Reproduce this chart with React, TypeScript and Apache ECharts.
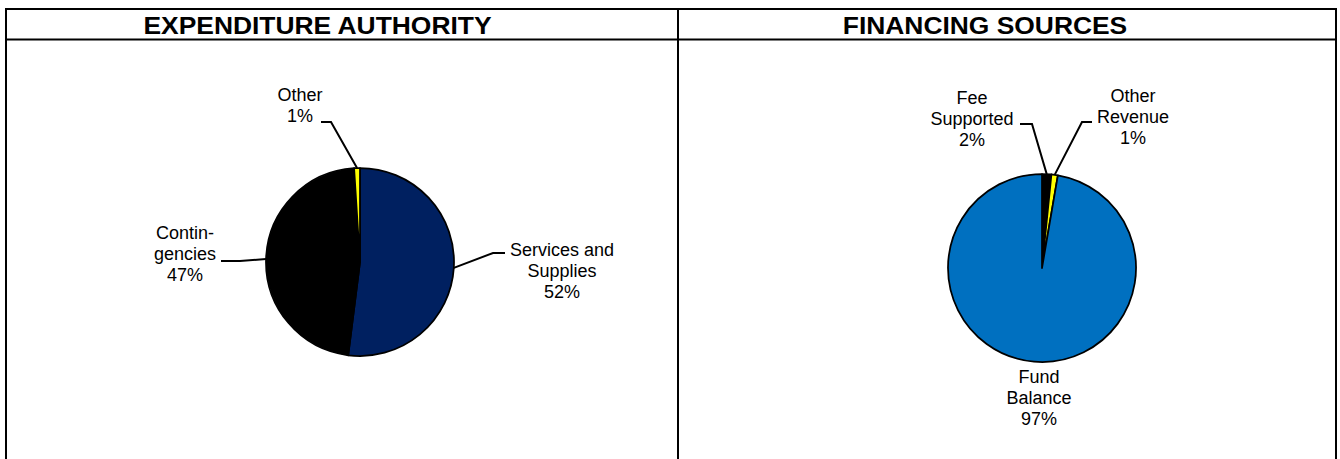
import React, { useEffect, useRef } from "react";
import * as echarts from "echarts";

// ---- data ----
const panelTitles = ["EXPENDITURE AUTHORITY", "FINANCING SOURCES"];
const expenditureCategories = ["Services and\nSupplies", "Contin-\ngencies", "Other"];
const expenditureValues = [52, 47, 1];
const financingCategories = ["Fee\nSupported", "Other\nRevenue", "Fund\nBalance"];
const financingValues = [1.6, 1.1, 97.3];

// ---- styles ----
const expenditureColors = ["#002060", "#000000", "#FFFF00"];
const financingColors = ["#000000", "#FFFF00", "#0070C0"];
const FONT = "'Liberation Sans', Arial, sans-serif";

const pieCenters: number[][] = [
  [360, 262],
  [1042, 268],
];
const pieRadius = 94;

// label placement relative to pie centre: [labelX, labelY, elbowX, elbowY, endX, endY] (null = no line)
const labelPlacement: (number | null)[][][] = [
  [
    [202, 9, 133, -9, 145, -9],
    [-175, -8, -120, -1, -139, -1],
    [-60, -157, -29, -140, -39, -140],
  ],
  [
    [-70, -149, -10, -144, -22, -144],
    [91, -151, 40, -146, 50, -146],
    [-3, 130, null, null, null, null],
  ],
];

export default function App() {
  const ref = useRef<HTMLDivElement>(null);

  useEffect(() => {
    if (!ref.current) return;
    const chart = echarts.init(ref.current, undefined, { renderer: "svg" });

    const makeSeries = (
      idx: number,
      names: string[],
      values: number[],
      colors: string[]
    ) => ({
      type: "pie",
      center: pieCenters[idx],
      radius: pieRadius,
      startAngle: 90,
      clockwise: true,
      silent: true,
      avoidLabelOverlap: false,
      emphasis: { disabled: true },
      itemStyle: { borderColor: "#000", borderWidth: 1.75 },
      label: {
        show: true,
        position: "outside",
        color: "#000",
        fontFamily: FONT,
        fontSize: 18,
        lineHeight: 21,
        align: "center",
        formatter: (p: any) => `${p.name}\n${Math.round(p.percent)}%`,
      },
      labelLine: {
        show: true,
        length: 20,
        length2: 10,
        smooth: false,
        lineStyle: { color: "#000", width: 2 },
      },
      labelLayout: (params: any) => {
        const pl = labelPlacement[idx][params.dataIndex];
        const c = pieCenters[idx];
        const res: any = {
          x: c[0] + (pl[0] as number),
          y: c[1] + (pl[1] as number),
          align: "center",
          verticalAlign: "middle",
        };
        if (pl[2] !== null && params.labelLinePoints) {
          const p0 = params.labelLinePoints[0];
          res.labelLinePoints = [
            [p0[0], p0[1]],
            [c[0] + (pl[2] as number), c[1] + (pl[3] as number)],
            [c[0] + (pl[4] as number), c[1] + (pl[5] as number)],
          ];
        }
        return res;
      },
      data: names.map((n, i) => ({
        name: n,
        value: values[i],
        itemStyle: { color: colors[i] },
        labelLine: { show: labelPlacement[idx][i][2] !== null },
      })),
    });

    const borderLines = [
      { x1: 5, y1: 9, x2: 1337, y2: 9 },
      { x1: 5, y1: 39.5, x2: 1337, y2: 39.5 },
      { x1: 6, y1: 8, x2: 6, y2: 459 },
      { x1: 678, y1: 8, x2: 678, y2: 459 },
      { x1: 1336, y1: 8, x2: 1336, y2: 459 },
    ];

    const titleX = [317.5, 985];

    chart.setOption({
      animation: false,
      backgroundColor: "#fff",
      graphic: [
        ...borderLines.map((s) => ({
          type: "line",
          shape: s,
          style: { stroke: "#000", lineWidth: 2 },
          silent: true,
        })),
        ...panelTitles.map((t, i) => ({
          type: "text",
          x: titleX[i],
          y: 25.5,
          scaleX: 1.1,
          silent: true,
          style: {
            text: t,
            fontFamily: FONT,
            fontSize: 24,
            fontWeight: "bold",
            fill: "#000",
            align: "center",
            verticalAlign: "middle",
          },
        })),
      ],
      series: [
        makeSeries(0, expenditureCategories, expenditureValues, expenditureColors),
        makeSeries(1, financingCategories, financingValues, financingColors),
      ],
    });

    return () => chart.dispose();
  }, []);

  return (
    <div
      ref={ref}
      style={{ position: "absolute", left: 0, top: 0, width: 1340, height: 459 }}
    />
  );
}
